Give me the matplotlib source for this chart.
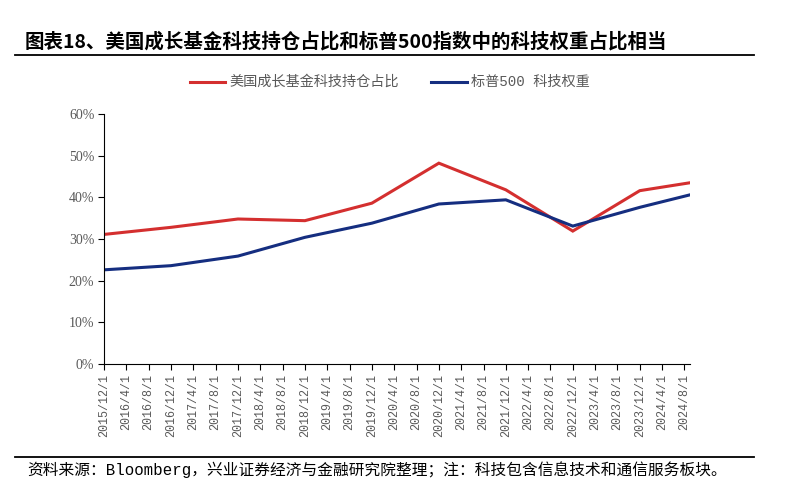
import matplotlib.pyplot as plt
from matplotlib.lines import Line2D

plt.rcParams['font.family'] = ['Noto Sans CJK SC', 'DejaVu Sans']

# months counted from 2015/12
months = [0, 12, 24, 36, 48, 60, 72, 84, 96, 105]
fund_tech = [31.1, 32.8, 34.8, 34.4, 38.6, 48.2, 41.8, 31.9, 41.6, 43.5]
sp500_tech = [22.6, 23.6, 25.9, 30.4, 33.8, 38.4, 39.4, 33.1, 37.6, 40.6]

tick_labels = ['2015/12/1', '2016/4/1', '2016/8/1', '2016/12/1', '2017/4/1', '2017/8/1',
               '2017/12/1', '2018/4/1', '2018/8/1', '2018/12/1', '2019/4/1', '2019/8/1',
               '2019/12/1', '2020/4/1', '2020/8/1', '2020/12/1', '2021/4/1', '2021/8/1',
               '2021/12/1', '2022/4/1', '2022/8/1', '2022/12/1', '2023/4/1', '2023/8/1',
               '2023/12/1', '2024/4/1', '2024/8/1']
y_ticks = [0, 10, 20, 30, 40, 50, 60]

red = '#d42f2f'
blue = '#152e80'
grey = '#595959'
serif = ['Liberation Serif', 'DejaVu Serif']
mixed = ['Liberation Mono', 'Noto Sans CJK SC']

fig = plt.figure(figsize=(7.87, 5), dpi=100)
ax = fig.add_axes([104 / 787, 136 / 500, 586 / 787, 250 / 500])

ax.plot(months, fund_tech, color=red, lw=2.2, solid_joinstyle='miter')
ax.plot(months, sp500_tech, color=blue, lw=2.2, solid_joinstyle='miter')

ax.set_xlim(0, 105)
ax.set_ylim(0, 60)
ax.set_xticks(range(0, 105, 4))
ax.set_xticklabels(tick_labels, rotation=90, fontsize=8.4, color=grey, family=mixed)
ax.set_yticks(y_ticks)
ax.set_yticklabels([f'{v}%' for v in y_ticks], fontsize=10, color=grey, family=serif)
for s in ['top', 'right']:
    ax.spines[s].set_visible(False)
ax.spines['left'].set_color('black')
ax.spines['bottom'].set_color('black')
ax.tick_params(axis='both', direction='out', length=4, width=0.8, pad=3)

# title, separator lines, legend, source
fig.text(25 / 787, 1 - 42 / 500, '图表18、美国成长基金科技持仓占比和标普500指数中的科技权重占比相当',
         fontsize=14, fontweight='bold', va='center', ha='left')
fig.add_artist(Line2D([15 / 787, 754 / 787], [1 - 55 / 500, 1 - 55 / 500], color='black', lw=1.3))
fig.add_artist(Line2D([15 / 787, 754 / 787], [1 - 457 / 500, 1 - 457 / 500], color='black', lw=1.3))

fig.add_artist(Line2D([190 / 787, 225 / 787], [1 - 82 / 500, 1 - 82 / 500], color=red, lw=2.2))
fig.text(229 / 787, 1 - 82 / 500, '美国成长基金科技持仓占比', fontsize=10.2, color=grey, va='center')
fig.add_artist(Line2D([431 / 787, 467 / 787], [1 - 82 / 500, 1 - 82 / 500], color=blue, lw=2.2))
fig.text(471 / 787, 1 - 82 / 500, '标普500 科技权重', fontsize=10.2, color=grey, va='center',
         family=mixed)

fig.text(27 / 787, 1 - 470 / 500,
         '资料来源：Bloomberg，兴业证券经济与金融研究院整理；注：科技包含信息技术和通信服务板块。',
         fontsize=11.3, va='center', ha='left', family=mixed)

fig.savefig('out.png', dpi=100)
